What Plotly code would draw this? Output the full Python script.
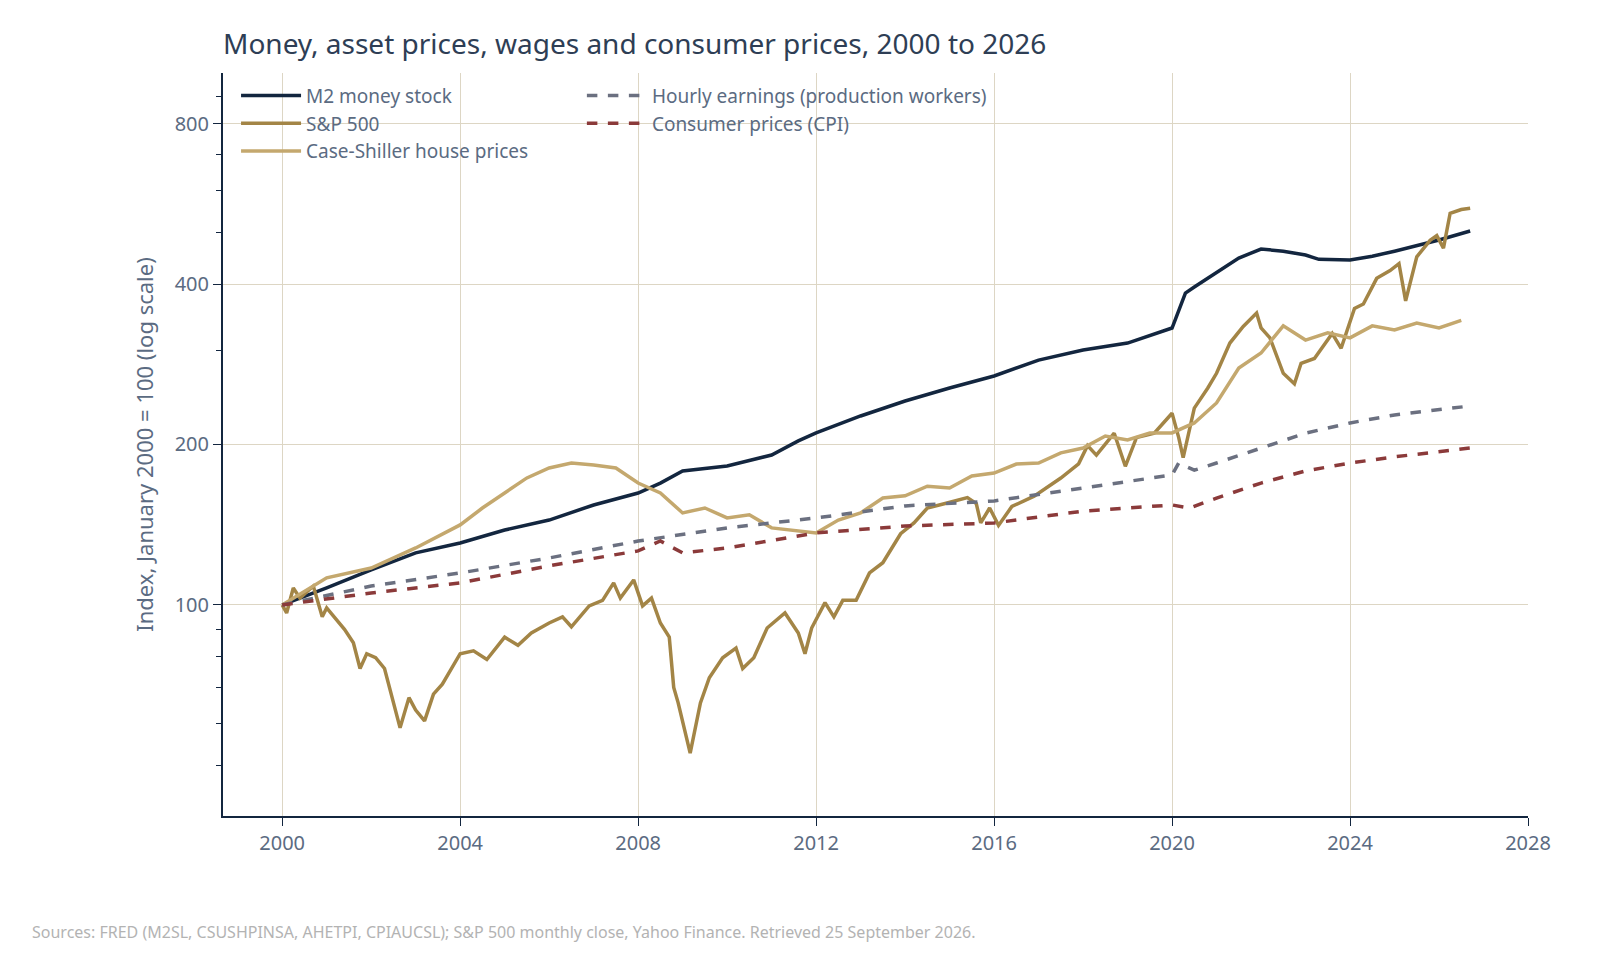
import plotly.graph_objects as go

# decimal years and index values (Jan 2000 = 100)
m2_x = [2000, 2001, 2002, 2003, 2004, 2005, 2006, 2007, 2008, 2008.5, 2009, 2010, 2011, 2011.6, 2012,
        2013, 2014, 2015, 2016, 2017, 2018, 2019, 2020, 2020.3, 2020.5, 2021, 2021.5, 2022, 2022.5,
        2023, 2023.3, 2024, 2024.5, 2025, 2025.5, 2026, 2026.7]
m2_y = [100, 107.6, 116.3, 125.2, 130.7, 138.2, 144.3, 154, 162.2, 169.3, 178.4, 182.3, 191.1, 203.1, 210.2,
        226.2, 241.3, 255.3, 268.9, 288, 300.8, 310, 330.8, 384.7, 394.8, 419.5, 447.5, 465.3, 461,
        453.4, 445, 443.7, 451, 461, 472, 483.7, 503]

hourly_x = [2000, 2002, 2004, 2006, 2008, 2010, 2012, 2014, 2016, 2018, 2020, 2020.15, 2020.5, 2021,
            2022, 2023, 2024, 2025, 2026.7]
hourly_y = [100, 108.5, 114.8, 122.5, 131.8, 139.5, 145.6, 153.4, 156.7, 165.7, 175.3, 184.6, 179, 184.6,
            197, 210, 219.5, 227.2, 236.2]

cpi_x = [2000, 2002, 2004, 2006, 2008, 2008.5, 2009, 2010, 2012, 2014, 2016, 2018, 2020, 2020.4,
         2021, 2022, 2023, 2024, 2025, 2026.7]
cpi_y = [100, 105.3, 110, 118.4, 126.3, 131.8, 125.2, 127.9, 136.5, 140.6, 142.5, 150, 154, 152,
         158.7, 169.3, 178.4, 184.6, 189.6, 197]

cs_x = [2000, 2001, 2002, 2003, 2004, 2004.5, 2005, 2005.5, 2006, 2006.5, 2007, 2007.5, 2008, 2008.5,
        2009, 2009.5, 2010, 2010.5, 2011, 2012, 2012.5, 2013, 2013.5, 2014, 2014.5, 2015, 2015.5, 2016,
        2016.5, 2017, 2017.5, 2018, 2018.5, 2019, 2019.5, 2020, 2020.5, 2021, 2021.5, 2022, 2022.5,
        2023, 2023.5, 2024, 2024.5, 2025, 2025.5, 2026, 2026.5]
cs_y = [100, 112.4, 117.3, 127.9, 141.3, 152, 162.2, 173.1, 180.7, 184.6, 183, 180.7, 169.3, 162.2,
        148.8, 152, 145.6, 147.6, 139.5, 136.5, 144.3, 148.8, 158.7, 160.2, 167, 165.7, 174.5, 176.8,
        183.8, 184.6, 192.9, 197, 207.5, 204, 210.2, 210.2, 219.5, 239.3, 278.3, 296.9, 333.9,
        314, 324, 317, 333.9, 328, 338, 330.8, 342]

sp_x = [2000, 2000.1, 2000.25, 2000.4, 2000.7, 2000.9, 2001, 2001.2, 2001.4, 2001.6, 2001.75, 2001.9,
        2002.1, 2002.3, 2002.5, 2002.65, 2002.85, 2003.0, 2003.2, 2003.4, 2003.6, 2004, 2004.3, 2004.6,
        2005, 2005.3, 2005.6, 2006, 2006.3, 2006.5, 2006.9, 2007.2, 2007.45, 2007.6, 2007.9, 2008.1,
        2008.3, 2008.5, 2008.7, 2008.8, 2008.9, 2009.05, 2009.17, 2009.4, 2009.6, 2009.9, 2010.2,
        2010.35, 2010.6, 2010.9, 2011.3, 2011.6, 2011.75, 2011.9, 2012.2, 2012.4, 2012.6, 2012.9,
        2013.2, 2013.5, 2013.9, 2014.2, 2014.5, 2014.9, 2015.4, 2015.6, 2015.7, 2015.9, 2016.1,
        2016.4, 2016.9, 2017.5, 2017.9, 2018.1, 2018.3, 2018.7, 2018.95, 2019.2, 2019.6, 2019.9,
        2020.0, 2020.15, 2020.25, 2020.5, 2020.8, 2021, 2021.3, 2021.6, 2021.9, 2022.0, 2022.2,
        2022.5, 2022.75, 2022.9, 2023.2, 2023.6, 2023.8, 2024.1, 2024.3, 2024.6, 2024.9, 2025.1,
        2025.25, 2025.5, 2025.8, 2025.95, 2026.1, 2026.25, 2026.5, 2026.7]
sp_y = [100, 96.6, 107.6, 103, 108.5, 95, 98.7, 94.5, 90, 84.9, 76, 81,
        79.6, 76, 65.5, 58.8, 67, 63.5, 60.6, 68, 71, 81, 82, 79,
        87, 84, 88.6, 92.5, 95, 91, 99.6, 102, 110, 103, 111.4, 99.6,
        103, 92.5, 87, 70, 65.5, 57.5, 52.7, 65.5, 73, 79.6, 83,
        76, 79.6, 90.5, 96.6, 88.6, 81, 90.5, 101, 95, 102, 102,
        114.8, 120, 136, 142.5, 152, 155, 159, 155, 142.5, 152, 141,
        153, 160, 173, 184, 199, 191, 210, 182, 206, 210, 224,
        229, 206, 189, 234, 255, 272, 310, 333, 353, 331, 317,
        272, 260, 284, 290, 323, 303, 360, 367, 410, 424, 437,
        372, 450, 483, 493, 467, 543, 552, 555]

NAVY = "#13263f"
TEXT = "#5b6b82"
GRID = "#ddd6c4"

fig = go.Figure()
fig.add_trace(go.Scatter(x=m2_x, y=m2_y, mode="lines", name="M2 money stock",
                         line=dict(color=NAVY, width=3.5), legend="legend"))
fig.add_trace(go.Scatter(x=sp_x, y=sp_y, mode="lines", name="S&P 500",
                         line=dict(color="#a38546", width=3.5), legend="legend"))
fig.add_trace(go.Scatter(x=cs_x, y=cs_y, mode="lines", name="Case-Shiller house prices",
                         line=dict(color="#c4a86e", width=3.5), legend="legend"))
fig.add_trace(go.Scatter(x=hourly_x, y=hourly_y, mode="lines", name="Hourly earnings (production workers)",
                         line=dict(color="#6b7080", width=3.5, dash="dash"), legend="legend2"))
fig.add_trace(go.Scatter(x=cpi_x, y=cpi_y, mode="lines", name="Consumer prices (CPI)",
                         line=dict(color="#8b3a3a", width=3.5, dash="dash"), legend="legend2"))

leg = dict(orientation="v", y=0.995, xanchor="left", yanchor="top", bgcolor="rgba(0,0,0,0)",
           font=dict(size=19, color=TEXT), itemwidth=60, tracegroupgap=0)

fig.update_layout(
    width=1600, height=976,
    paper_bgcolor="white", plot_bgcolor="white",
    font=dict(family="Noto Sans", size=20, color=TEXT),
    margin=dict(l=215, r=80, t=65, b=168),
    title=dict(text="Money, asset prices, wages and consumer prices, 2000 to 2026",
               x=215 / 1600, xanchor="left", y=0.963, yanchor="middle",
               font=dict(size=28, color="#2e3e55")),
    xaxis=dict(range=[1998.67, 2028], tickvals=list(range(2000, 2029, 4)),
               showgrid=True, gridcolor=GRID, zeroline=False,
               showline=True, linecolor=NAVY, linewidth=2,
               ticks="outside", tickcolor=NAVY, ticklen=8),
    yaxis=dict(type="log", range=[1.604, 2.998], tickvals=[100, 200, 400, 800],
               showgrid=True, gridcolor=GRID, zeroline=False,
               showline=True, linecolor=NAVY, linewidth=2,
               ticks="outside", tickcolor=NAVY, ticklen=8,
               minor=dict(tickvals=[50, 60, 70, 80, 90, 300, 500, 600, 700, 900],
                          ticks="outside", ticklen=5, tickcolor=NAVY, showgrid=False),
               title=dict(text="Index, January 2000 = 100 (log scale)", standoff=15,
                          font=dict(size=22, color=TEXT))),
    legend=dict(leg, x=0.01),
    legend2=dict(leg, x=0.275),
)
fig.add_annotation(text="Sources: FRED (M2SL, CSUSHPINSA, AHETPI, CPIAUCSL); S&P 500 monthly close, Yahoo Finance. Retrieved 25 September 2026.",
                   xref="paper", yref="paper", x=-193 / 1305, y=-(924 - 808) / 743,
                   xanchor="left", yanchor="middle", showarrow=False,
                   font=dict(size=16, color="#b3b3b3"))

fig.write_html("out.html")
